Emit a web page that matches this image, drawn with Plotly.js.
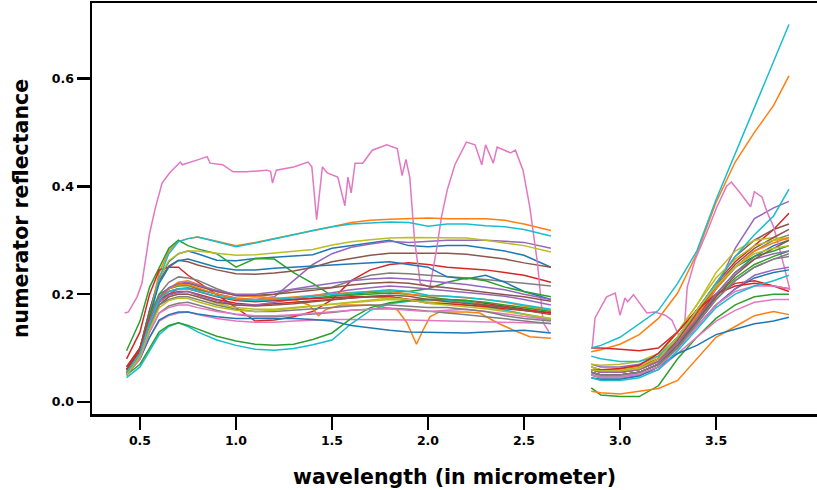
<!DOCTYPE html>
<html>
<head>
<meta charset="utf-8">
<script src="https://cdn.plot.ly/plotly-3.0.1.min.js"></script>
<style>html,body{margin:0;padding:0;overflow:hidden;background:#fff}</style>
</head>
<body>
<div id="chart" style="width:817px;height:490px"></div>
<script>
// wavelength grids (micrometer)
const W_VIS = [0.43,0.5,0.55,0.6,0.65,0.7,0.75,0.8,0.9,1.0,1.1,1.2,1.3,1.4,1.5,1.6,1.7,1.8,1.9,2.0,2.1,2.2,2.3,2.4,2.5,2.64];
const W_IR  = [2.85,2.9,3.0,3.1,3.2,3.3,3.4,3.5,3.6,3.7,3.8,3.88];

// special spectra with own sampling
const PINK_HI_W_VIS = [0.42,0.44,0.485,0.51,0.55,0.58,0.615,0.655,0.71,0.72,0.8,0.85,0.865,0.93,0.985,1.055,1.16,1.18,1.19,1.21,1.3,1.375,1.395,1.42,1.45,1.475,1.53,1.567,1.583,1.6,1.62,1.66,1.71,1.785,1.84,1.865,1.885,1.905,1.93,1.96,2.01,2.047,2.07,2.1,2.14,2.2,2.245,2.28,2.3,2.34,2.36,2.43,2.455,2.495,2.53,2.57,2.6,2.63];
const PINK_HI_VIS = [0.165,0.167,0.195,0.22,0.313,0.36,0.406,0.425,0.445,0.44,0.449,0.455,0.443,0.44,0.427,0.427,0.43,0.428,0.406,0.43,0.436,0.445,0.436,0.338,0.436,0.425,0.417,0.364,0.417,0.388,0.443,0.443,0.467,0.477,0.47,0.42,0.45,0.417,0.30,0.22,0.213,0.288,0.343,0.393,0.44,0.482,0.477,0.44,0.477,0.443,0.473,0.462,0.467,0.43,0.362,0.258,0.147,0.13];
const PINK_HI_W_IR = [2.855,2.87,2.93,2.975,3.0,3.026,3.04,3.07,3.14,3.18,3.235,3.27,3.30,3.33,3.35,3.39,3.45,3.505,3.555,3.58,3.625,3.68,3.70,3.74,3.765,3.80,3.85,3.885];
const PINK_HI_IR = [0.10,0.156,0.195,0.202,0.161,0.193,0.186,0.199,0.165,0.167,0.161,0.152,0.128,0.109,0.213,0.263,0.313,0.362,0.40,0.408,0.388,0.362,0.39,0.38,0.353,0.325,0.258,0.208];

const DIP_W_VIS = [0.43,0.5,0.55,0.6,0.65,0.7,0.75,0.8,0.9,1.0,1.1,1.2,1.3,1.38,1.43,1.47,1.55,1.7,1.84,1.89,1.94,1.975,2.01,2.06,2.2,2.27,2.36,2.44,2.53,2.64];
const DIP_VIS = [0.05,0.085,0.14,0.19,0.21,0.222,0.225,0.218,0.205,0.198,0.195,0.193,0.19,0.18,0.16,0.172,0.18,0.18,0.171,0.147,0.107,0.134,0.158,0.167,0.167,0.165,0.147,0.134,0.121,0.118];

// reflectance spectra on shared grids: [visible/SWIR part, mid-IR part]
const S00 = [[0.06,0.10,0.17,0.23,0.26,0.275,0.28,0.275,0.263,0.262,0.266,0.268,0.27,0.273,0.285,0.29,0.295,0.30,0.29,0.288,0.29,0.29,0.285,0.28,0.272,0.25],[0.06,0.055,0.055,0.06,0.08,0.12,0.17,0.21,0.25,0.27,0.29,0.30]];
const S01 = [[0.055,0.09,0.16,0.24,0.28,0.298,0.303,0.306,0.298,0.29,0.296,0.303,0.31,0.317,0.325,0.333,0.337,0.339,0.34,0.341,0.34,0.34,0.34,0.337,0.33,0.318],[0.093,0.097,0.107,0.125,0.155,0.202,0.275,0.37,0.445,0.50,0.55,0.605]];
const S02 = [[0.095,0.15,0.213,0.25,0.285,0.30,0.29,0.284,0.275,0.25,0.266,0.265,0.24,0.22,0.197,0.198,0.20,0.202,0.20,0.195,0.19,0.185,0.18,0.175,0.17,0.165],[0.026,0.013,0.01,0.01,0.03,0.08,0.12,0.155,0.18,0.195,0.20,0.20]];
const S03 = [[0.08,0.13,0.20,0.245,0.25,0.25,0.235,0.223,0.20,0.175,0.15,0.152,0.158,0.168,0.19,0.225,0.245,0.255,0.258,0.255,0.25,0.248,0.245,0.24,0.235,0.222],[0.10,0.10,0.098,0.095,0.10,0.13,0.17,0.22,0.26,0.29,0.32,0.35]];
const S04 = [[0.06,0.10,0.15,0.185,0.20,0.21,0.212,0.208,0.20,0.193,0.19,0.195,0.225,0.255,0.275,0.287,0.293,0.298,0.296,0.298,0.30,0.30,0.30,0.298,0.296,0.285],[0.07,0.065,0.065,0.07,0.085,0.11,0.15,0.21,0.285,0.34,0.36,0.372]];
const S05 = [[0.06,0.10,0.17,0.225,0.252,0.263,0.26,0.254,0.245,0.238,0.237,0.239,0.243,0.25,0.26,0.266,0.272,0.276,0.276,0.276,0.276,0.274,0.27,0.265,0.258,0.25],[0.065,0.06,0.06,0.065,0.08,0.12,0.17,0.22,0.27,0.30,0.32,0.33]];
const S07 = [[0.055,0.09,0.15,0.20,0.222,0.232,0.23,0.226,0.21,0.197,0.195,0.20,0.208,0.21,0.213,0.225,0.235,0.239,0.238,0.235,0.233,0.23,0.227,0.224,0.22,0.215],[0.06,0.055,0.055,0.06,0.075,0.11,0.16,0.21,0.25,0.28,0.30,0.31]];
const S08 = [[0.055,0.09,0.16,0.23,0.262,0.275,0.28,0.28,0.276,0.272,0.273,0.276,0.28,0.283,0.291,0.297,0.301,0.304,0.305,0.305,0.304,0.304,0.30,0.295,0.29,0.278],[0.07,0.068,0.07,0.075,0.09,0.13,0.18,0.24,0.28,0.30,0.305,0.30]];
const S09 = [[0.05,0.085,0.15,0.23,0.275,0.297,0.303,0.306,0.297,0.288,0.295,0.302,0.31,0.318,0.325,0.33,0.332,0.334,0.333,0.326,0.33,0.33,0.327,0.325,0.32,0.308],[0.10,0.105,0.12,0.145,0.17,0.22,0.28,0.375,0.46,0.545,0.63,0.70]];
const S10 = [[0.055,0.09,0.16,0.22,0.25,0.262,0.265,0.26,0.25,0.245,0.245,0.248,0.25,0.252,0.255,0.256,0.258,0.26,0.255,0.25,0.232,0.228,0.235,0.222,0.205,0.19],[0.05,0.045,0.045,0.05,0.065,0.10,0.14,0.18,0.21,0.23,0.24,0.245]];
const S11_IR = [0.02,0.017,0.015,0.02,0.025,0.04,0.08,0.12,0.14,0.16,0.168,0.162];
const S12 = [[0.065,0.10,0.16,0.20,0.21,0.215,0.216,0.21,0.20,0.19,0.187,0.188,0.19,0.193,0.197,0.20,0.203,0.205,0.205,0.21,0.222,0.23,0.225,0.213,0.205,0.195],[0.05,0.048,0.048,0.05,0.065,0.10,0.15,0.20,0.24,0.27,0.28,0.29]];
const S13 = [[0.065,0.10,0.155,0.19,0.20,0.205,0.205,0.20,0.19,0.183,0.18,0.182,0.185,0.188,0.19,0.193,0.195,0.195,0.19,0.19,0.19,0.188,0.183,0.178,0.172,0.165],[0.06,0.058,0.06,0.065,0.08,0.12,0.16,0.20,0.22,0.225,0.215,0.21]];
const S14 = [[0.055,0.09,0.145,0.185,0.198,0.203,0.205,0.198,0.188,0.18,0.18,0.185,0.19,0.197,0.203,0.208,0.212,0.215,0.213,0.21,0.207,0.204,0.20,0.196,0.19,0.18],[0.055,0.05,0.05,0.055,0.07,0.10,0.14,0.18,0.21,0.235,0.245,0.25]];
const S15 = [[0.06,0.095,0.15,0.195,0.21,0.218,0.22,0.215,0.205,0.198,0.198,0.20,0.203,0.207,0.212,0.217,0.22,0.222,0.22,0.215,0.212,0.208,0.204,0.20,0.195,0.187],[0.06,0.055,0.055,0.06,0.075,0.115,0.165,0.215,0.255,0.285,0.305,0.32]];
const S16 = [[0.05,0.08,0.12,0.15,0.16,0.165,0.167,0.162,0.155,0.15,0.148,0.148,0.15,0.152,0.153,0.153,0.153,0.152,0.152,0.151,0.15,0.15,0.149,0.148,0.147,0.146],[0.05,0.045,0.045,0.05,0.06,0.09,0.12,0.15,0.17,0.185,0.19,0.19]];
const S17 = [[0.05,0.085,0.13,0.165,0.178,0.183,0.185,0.18,0.17,0.162,0.158,0.158,0.16,0.163,0.166,0.17,0.172,0.174,0.172,0.168,0.165,0.162,0.158,0.155,0.15,0.145],[0.055,0.05,0.05,0.055,0.07,0.10,0.145,0.19,0.225,0.25,0.265,0.275]];
const S18 = [[0.05,0.085,0.14,0.18,0.195,0.20,0.20,0.195,0.183,0.175,0.172,0.172,0.175,0.178,0.182,0.185,0.188,0.19,0.188,0.185,0.183,0.18,0.175,0.17,0.163,0.155],[0.065,0.06,0.06,0.065,0.085,0.13,0.18,0.23,0.265,0.29,0.30,0.305]];
const S19 = [[0.045,0.065,0.095,0.125,0.14,0.147,0.14,0.13,0.115,0.105,0.098,0.096,0.099,0.106,0.115,0.145,0.17,0.182,0.187,0.19,0.188,0.185,0.178,0.17,0.162,0.152],[0.085,0.08,0.075,0.075,0.085,0.12,0.17,0.22,0.27,0.31,0.345,0.395]];
const S20 = [[0.05,0.08,0.12,0.152,0.162,0.167,0.167,0.163,0.158,0.155,0.155,0.155,0.155,0.153,0.15,0.142,0.137,0.133,0.13,0.129,0.128,0.128,0.13,0.132,0.133,0.128],[0.045,0.042,0.042,0.048,0.065,0.09,0.105,0.125,0.135,0.145,0.15,0.157]];
const S21 = [[0.055,0.09,0.15,0.195,0.21,0.217,0.218,0.212,0.20,0.192,0.19,0.192,0.195,0.198,0.20,0.203,0.205,0.206,0.20,0.197,0.196,0.193,0.19,0.185,0.178,0.17],[0.06,0.055,0.055,0.06,0.075,0.11,0.16,0.21,0.25,0.28,0.295,0.305]];
const S22 = [[0.05,0.07,0.10,0.13,0.142,0.147,0.142,0.135,0.122,0.113,0.107,0.105,0.107,0.116,0.128,0.155,0.175,0.184,0.188,0.19,0.19,0.188,0.185,0.18,0.175,0.168],[0.055,0.05,0.05,0.055,0.07,0.105,0.15,0.195,0.23,0.255,0.27,0.28]];
const S23 = [[0.06,0.095,0.15,0.19,0.205,0.21,0.21,0.205,0.195,0.188,0.186,0.188,0.19,0.192,0.194,0.195,0.195,0.195,0.19,0.183,0.182,0.18,0.177,0.173,0.17,0.165],[0.06,0.06,0.062,0.068,0.09,0.13,0.17,0.20,0.215,0.22,0.215,0.205]];
const S24 = [[0.055,0.09,0.15,0.195,0.212,0.22,0.222,0.217,0.207,0.20,0.20,0.204,0.21,0.215,0.22,0.225,0.228,0.23,0.228,0.225,0.222,0.218,0.213,0.208,0.20,0.19],[0.06,0.055,0.055,0.06,0.075,0.11,0.155,0.20,0.24,0.265,0.275,0.28]];
const S25 = [[0.055,0.085,0.14,0.18,0.195,0.20,0.20,0.195,0.185,0.18,0.178,0.18,0.182,0.186,0.19,0.193,0.196,0.198,0.196,0.19,0.186,0.183,0.18,0.176,0.17,0.162],[0.055,0.05,0.05,0.055,0.07,0.105,0.15,0.195,0.235,0.265,0.285,0.30]];
const S26 = [[0.05,0.08,0.13,0.165,0.175,0.18,0.18,0.175,0.168,0.163,0.16,0.16,0.162,0.165,0.168,0.17,0.172,0.173,0.17,0.168,0.17,0.172,0.168,0.163,0.158,0.152],[0.05,0.048,0.048,0.052,0.065,0.10,0.14,0.18,0.205,0.215,0.215,0.21]];
const S27 = [[0.05,0.085,0.14,0.18,0.19,0.195,0.195,0.19,0.18,0.172,0.168,0.168,0.17,0.172,0.175,0.178,0.18,0.18,0.178,0.175,0.175,0.172,0.168,0.16,0.155,0.15],[0.055,0.05,0.05,0.055,0.07,0.10,0.145,0.19,0.225,0.25,0.265,0.27]];
const S28 = [[0.05,0.085,0.135,0.175,0.188,0.193,0.192,0.186,0.176,0.17,0.168,0.17,0.174,0.178,0.182,0.186,0.19,0.193,0.19,0.183,0.18,0.177,0.173,0.168,0.162,0.155],[0.06,0.058,0.058,0.062,0.08,0.12,0.17,0.215,0.25,0.275,0.285,0.29]];
const S29 = [[0.055,0.09,0.145,0.19,0.205,0.21,0.21,0.205,0.196,0.19,0.188,0.19,0.193,0.196,0.20,0.203,0.206,0.208,0.205,0.198,0.196,0.194,0.19,0.186,0.18,0.172],[0.045,0.04,0.04,0.045,0.06,0.095,0.135,0.175,0.20,0.215,0.225,0.235]];

const TAB10 = ['#1f77b4','#ff7f0e','#2ca02c','#d62728','#9467bd','#8c564b','#e377c2','#7f7f7f','#bcbd22','#17becf'];

function seg(wa, va, wb, vb){ return {x: wa.concat([null], wb), y: va.concat([null], vb)}; }

const spectra = [
  seg(W_VIS,S00[0],W_IR,S00[1]), seg(W_VIS,S01[0],W_IR,S01[1]), seg(W_VIS,S02[0],W_IR,S02[1]),
  seg(W_VIS,S03[0],W_IR,S03[1]), seg(W_VIS,S04[0],W_IR,S04[1]), seg(W_VIS,S05[0],W_IR,S05[1]),
  seg(PINK_HI_W_VIS,PINK_HI_VIS,PINK_HI_W_IR,PINK_HI_IR),
  seg(W_VIS,S07[0],W_IR,S07[1]), seg(W_VIS,S08[0],W_IR,S08[1]), seg(W_VIS,S09[0],W_IR,S09[1]),
  seg(W_VIS,S10[0],W_IR,S10[1]), seg(DIP_W_VIS,DIP_VIS,W_IR,S11_IR), seg(W_VIS,S12[0],W_IR,S12[1]),
  seg(W_VIS,S13[0],W_IR,S13[1]), seg(W_VIS,S14[0],W_IR,S14[1]), seg(W_VIS,S15[0],W_IR,S15[1]),
  seg(W_VIS,S16[0],W_IR,S16[1]), seg(W_VIS,S17[0],W_IR,S17[1]), seg(W_VIS,S18[0],W_IR,S18[1]),
  seg(W_VIS,S19[0],W_IR,S19[1]), seg(W_VIS,S20[0],W_IR,S20[1]), seg(W_VIS,S21[0],W_IR,S21[1]),
  seg(W_VIS,S22[0],W_IR,S22[1]), seg(W_VIS,S23[0],W_IR,S23[1]), seg(W_VIS,S24[0],W_IR,S24[1]),
  seg(W_VIS,S25[0],W_IR,S25[1]), seg(W_VIS,S26[0],W_IR,S26[1]), seg(W_VIS,S27[0],W_IR,S27[1]),
  seg(W_VIS,S28[0],W_IR,S28[1]), seg(W_VIS,S29[0],W_IR,S29[1])
];

const traces = spectra.map((s,i)=>({
  type:'scatter', mode:'lines', x:s.x, y:s.y, connectgaps:false,
  line:{color:TAB10[i%10], width:1.5}, hoverinfo:'skip', showlegend:false
}));

const F = 'DejaVu Sans, sans-serif';
const layout = {
  width:817, height:490,
  margin:{l:92, r:0, t:3, b:76},
  paper_bgcolor:'#fff', plot_bgcolor:'#fff',
  showlegend:false,
  xaxis:{
    range:[0.25,4.026], tickvals:[0.5,1.0,1.5,2.0,2.5,3.0,3.5], tickformat:'.1f',
    showgrid:false, zeroline:false, showline:true, mirror:true, linecolor:'#000', linewidth:2.5,
    ticks:'outside', ticklen:13, tickwidth:2.5, tickcolor:'#000',
    tickfont:{family:F, size:12.5, color:'#000', weight:'bold'},
    title:{text:'wavelength (in micrometer)', font:{family:F, size:20.5, color:'#000', weight:'bold'}, standoff:23}
  },
  yaxis:{
    range:[-0.0223,0.740], tickvals:[0,0.2,0.4,0.6], tickformat:'.1f',
    showgrid:false, zeroline:false, showline:true, linecolor:'#000', linewidth:2.5,
    ticks:'outside', ticklen:13, tickwidth:2.5, tickcolor:'#000',
    tickfont:{family:F, size:12.5, color:'#000', weight:'bold'},
    title:{text:'numerator reflectance', font:{family:F, size:20.5, color:'#000', weight:'bold'}, standoff:18}
  }
};

Plotly.newPlot('chart', traces, layout, {displayModeBar:false, staticPlot:true});
</script>
</body>
</html>
